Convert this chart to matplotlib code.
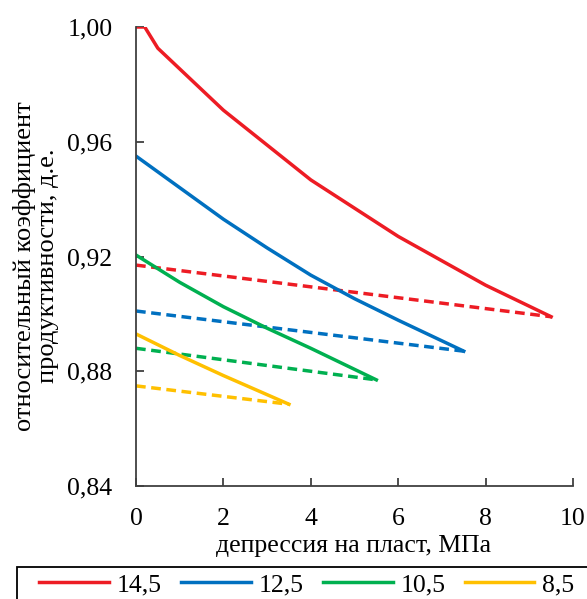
import matplotlib
matplotlib.use("Agg")
import matplotlib.pyplot as plt
from matplotlib.ticker import FuncFormatter
from matplotlib.patches import Rectangle

plt.rcParams['font.family'] = ['Liberation Serif', 'DejaVu Serif']
plt.rcParams['font.size'] = 18.5

# legend labels (pressure, MPa) and colours
labels = ['14,5', '12,5', '10,5', '8,5']
colors = ['#ED1C24', '#0070C0', '#00B050', '#FFC000']

# solid curves
x_red = [0, 0.2, 0.5, 2, 4, 6, 8, 9.5]
y_red = [1.0, 1.0, 0.9926, 0.971, 0.9467, 0.927, 0.910, 0.899]
x_blue = [0, 1, 2, 3, 4, 5, 6, 7.5]
y_blue = [0.955, 0.944, 0.933, 0.923, 0.9135, 0.9053, 0.8978, 0.887]
x_green = [0, 1, 2, 3, 4, 5.5]
y_green = [0.9205, 0.911, 0.9025, 0.895, 0.888, 0.877]
x_yellow = [0, 1, 2, 3.5]
y_yellow = [0.893, 0.8855, 0.8785, 0.8685]

# dashed lines
xd_red = [0, 9.5]
yd_red = [0.917, 0.899]
xd_blue = [0, 7.5]
yd_blue = [0.901, 0.887]
xd_green = [0, 5.5]
yd_green = [0.888, 0.877]
xd_yellow = [0, 3.5]
yd_yellow = [0.8749, 0.8685]

solid = [(x_red, y_red), (x_blue, y_blue), (x_green, y_green), (x_yellow, y_yellow)]
dashed = [(xd_red, yd_red), (xd_blue, yd_blue), (xd_green, yd_green), (xd_yellow, yd_yellow)]

W, H = 587, 599
fig = plt.figure(figsize=(W/100, H/100), dpi=100)
ax = fig.add_axes([136/W, 1-486/H, (573-136)/W, (486-27)/H])

handles = []
for (xs, ys), (xd, yd), c, lab in zip(solid, dashed, colors, labels):
    h, = ax.plot(xs, ys, color=c, lw=2.5, label=lab)
    ax.plot(xd, yd, color=c, lw=2.5, dashes=(2.8, 1.6))
    handles.append(h)

ax.set_xlim(0, 10)
ax.set_ylim(0.84, 1.00)
ax.set_xticks([0, 2, 4, 6, 8, 10])
ax.set_yticks([0.84, 0.88, 0.92, 0.96, 1.00])
ax.yaxis.set_major_formatter(FuncFormatter(lambda v, p: f'{v:.2f}'.replace('.', ',')))
ax.spines['top'].set_visible(False)
ax.spines['right'].set_visible(False)
for s in ['left', 'bottom']:
    ax.spines[s].set_color('#404040')
    ax.spines[s].set_linewidth(1.3)
ax.tick_params(axis='x', direction='in', length=6, width=1.3, color='#404040', pad=16)
ax.tick_params(axis='y', direction='in', length=6, width=1.3, color='#404040', pad=17)

fig.text(354/W, 1-546/H, 'депрессия на пласт, МПа', ha='center', va='center')
fig.text(36/W, 1-266/H, 'относительный коэффициент\nпродуктивности, д.е.',
         ha='center', va='center', rotation=90, multialignment='center',
         linespacing=1.05, fontsize=19)

# legend frame runs past the right and bottom edges, as in the source
fig.patches.append(Rectangle((17/W, -0.05), 1.0, 1-567/H+0.05, transform=fig.transFigure,
                             fill=False, edgecolor='black', lw=1.3))
leg = fig.legend(handles=handles, loc='upper left', ncol=4,
                 bbox_to_anchor=(39/W, 1-573/H),
                 frameon=False, handlelength=2.72, handletextpad=0.3,
                 columnspacing=0.75, borderaxespad=0, borderpad=0)

fig.savefig('out.png', dpi=100)
